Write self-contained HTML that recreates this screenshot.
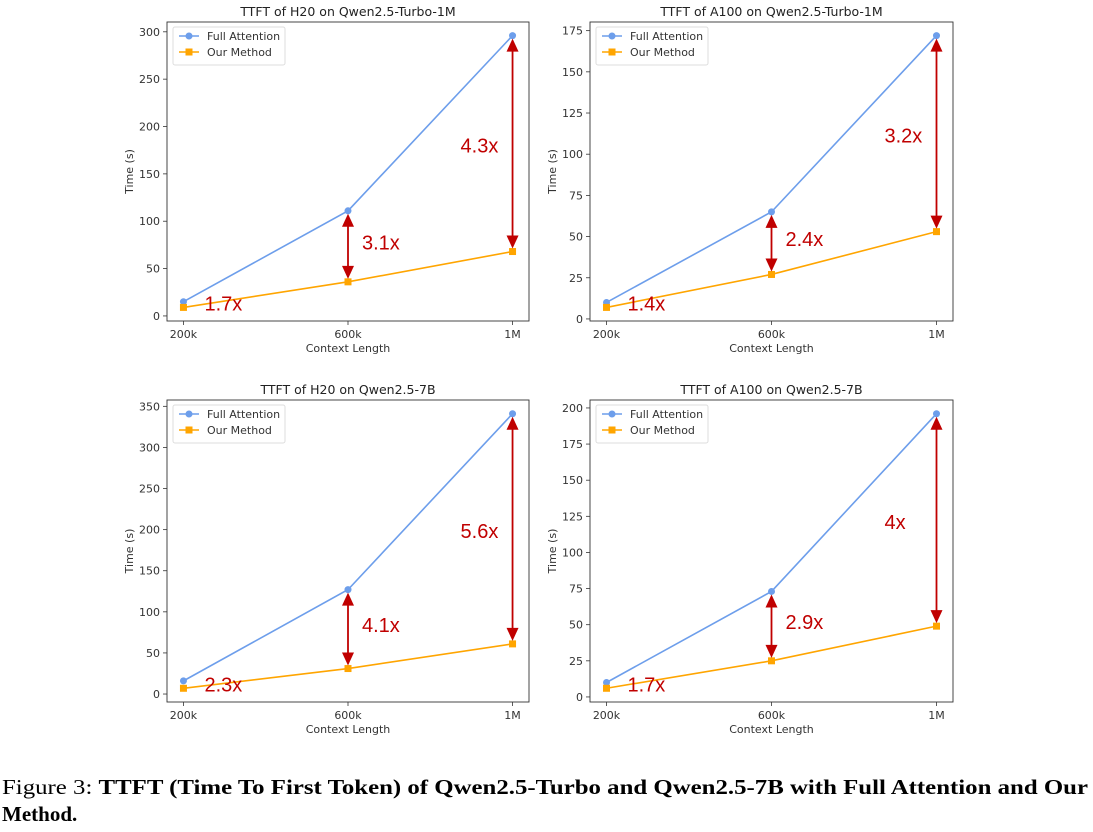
<!DOCTYPE html>
<html><head><meta charset="utf-8"><style>
body{margin:0;background:#fff;}
svg text{font-family:"DejaVu Sans","Liberation Sans",sans-serif;}
</style></head><body>
<svg id="fig" width="1093" height="827" viewBox="0 0 1093 827" xmlns="http://www.w3.org/2000/svg">
<text x="2" y="794" font-size="21" style="font-family:'Liberation Serif',serif" textLength="1086" lengthAdjust="spacingAndGlyphs">Figure 3: <tspan font-weight="bold">TTFT (Time To First Token) of Qwen2.5-Turbo and Qwen2.5-7B with Full Attention and Our</tspan></text>
<text x="2" y="821" font-size="21" font-weight="bold" style="font-family:'Liberation Serif',serif">Method.</text>
</svg>
<script>
const categories = ["200k","600k","1M"];
const xValues = [200,600,1000];
const titles = ["TTFT of H20 on Qwen2.5-Turbo-1M","TTFT of A100 on Qwen2.5-Turbo-1M","TTFT of H20 on Qwen2.5-7B","TTFT of A100 on Qwen2.5-7B"];
const fullAttention = [[15,111,296],[10,65,172],[16,127,341],[10,73,196]];
const ourMethod = [[9,36,68],[7,27,53],[7,31,61],[6,25,49]];
const speedups = [["1.7x","3.1x","4.3x"],["1.4x","2.4x","3.2x"],["2.3x","4.1x","5.6x"],["1.7x","2.9x","4x"]];
const tickSteps = [50,25,50,25];
const boxes = [[167,22,362,299],[590,22,363,299],[167,400,362,302],[590,400,363,302]];

const NS="http://www.w3.org/2000/svg";
const svg=document.getElementById('fig');
function mk(tag,attrs,parent,txt){const e=document.createElementNS(NS,tag);for(const k in attrs)e.setAttribute(k,attrs[k]);if(txt!==undefined)e.textContent=txt;(parent||svg).appendChild(e);return e;}
const BLUE="#6d9eeb",ORANGE="#ffa500",RED="#c00000",AX="#333";

for(let p=0;p<4;p++){
  const [bx,by,bw,bh]=boxes[p];
  const g=mk('g',{});
  
  
  const all=fullAttention[p].concat(ourMethod[p]);
  const mn=Math.min(...all),mx=Math.max(...all),r=mx-mn;
  const y0=mn-0.05*r,y1=mx+0.05*r;
  const xr=xValues[2]-xValues[0],x0=xValues[0]-0.05*xr,x1=xValues[2]+0.05*xr;
  const X=v=>bx+(v-x0)/(x1-x0)*bw;
  const Y=v=>by+bh-(v-y0)/(y1-y0)*bh;
  const t=mk('text',{x:bx+bw/2,y:by-6,'text-anchor':'middle','font-size':12.5,fill:'#222'},g,titles[p]);
  
  
  for(let v=0;v<=y1;v+=tickSteps[p]){
    const yy=Y(v);
    mk('line',{x1:bx-4,x2:bx,y1:yy,y2:yy,stroke:AX,'stroke-width':0.8},g);
    const tl=mk('text',{x:bx-7,y:yy+4,'text-anchor':'end','font-size':11,fill:'#333'},g,String(v));
    
    
  }
  for(let i=0;i<3;i++){
    const xx=X(xValues[i]);
    mk('line',{x1:xx,x2:xx,y1:by+bh,y2:by+bh+4,stroke:AX,'stroke-width':0.8},g);
    const tl=mk('text',{x:xx,y:by+bh+17,'text-anchor':'middle','font-size':11,fill:'#333'},g,categories[i]);
    
    
  }
  const xl=mk('text',{x:bx+bw/2,y:by+bh+31,'text-anchor':'middle','font-size':11,fill:'#333'},g,'Context Length');
  
  
  const yl=mk('text',{x:0,y:0,'text-anchor':'middle','font-size':11,fill:'#333',transform:`translate(${bx-34},${by+bh/2}) rotate(-90)`},g,'Time (s)');
  
  
  const pf=fullAttention[p].map((v,i)=>X(xValues[i])+','+Y(v)).join(' ');
  const po=ourMethod[p].map((v,i)=>X(xValues[i])+','+Y(v)).join(' ');
  const lf=mk('polyline',{points:pf,fill:'none',stroke:BLUE,'stroke-width':1.6},g);
  
  
  const lo=mk('polyline',{points:po,fill:'none',stroke:ORANGE,'stroke-width':1.6},g);
  
  
  for(let i=0;i<3;i++){
    const c=mk('circle',{cx:X(xValues[i]),cy:Y(fullAttention[p][i]),r:3.5,fill:BLUE},g);
    
    
    const s=mk('rect',{x:X(xValues[i])-3.5,y:Y(ourMethod[p][i])-3.5,width:7,height:7,fill:ORANGE},g);
    
    
  }
  for(let i=0;i<3;i++){
    const xx=X(xValues[i]),ya=Y(fullAttention[p][i]),yb=Y(ourMethod[p][i]);
    if(i>0){
      const top=ya+3,bot=yb-3;
      const a=mk('g',{},g);
      
      
      mk('line',{x1:xx,x2:xx,y1:top+10,y2:bot-10,stroke:RED,'stroke-width':1.8},a);
      mk('polygon',{points:`${xx},${top} ${xx-6},${top+13} ${xx+6},${top+13}`,fill:RED},a);
      mk('polygon',{points:`${xx},${bot} ${xx-6},${bot-13} ${xx+6},${bot-13}`,fill:RED},a);
    }
    let lx,ly;
    if(i===0){lx=xx+21;ly=yb+3;}
    else if(i===1){lx=xx+14;ly=(ya+yb)/2+3;}
    else{lx=xx-52;ly=ya+(yb-ya)*0.51+7;}
    const tl=mk('text',{x:lx,y:ly,'font-size':20,fill:RED,style:"font-family:'Liberation Sans',sans-serif"},g,speedups[p][i]);
    
    
  }
  const lg=mk('g',{},g);
  
  
  mk('rect',{x:bx+6,y:by+5,width:112,height:38,rx:2,fill:'#fff',stroke:'#ddd'},lg);
  mk('line',{x1:bx+12,x2:bx+32,y1:by+14,y2:by+14,stroke:BLUE,'stroke-width':1.6},lg);
  mk('circle',{cx:bx+22,cy:by+14,r:3.5,fill:BLUE},lg);
  mk('text',{x:bx+40,y:by+18,'font-size':11,fill:'#333'},lg,'Full Attention');
  mk('line',{x1:bx+12,x2:bx+32,y1:by+30,y2:by+30,stroke:ORANGE,'stroke-width':1.6},lg);
  mk('rect',{x:bx+18.5,y:by+26.5,width:7,height:7,fill:ORANGE},lg);
  mk('text',{x:bx+40,y:by+34,'font-size':11,fill:'#333'},lg,'Our Method');
  const fr=mk('rect',{x:bx,y:by,width:bw,height:bh,fill:'none',stroke:AX,'stroke-width':0.9},g);
  
  
}
</script>
</body></html>
